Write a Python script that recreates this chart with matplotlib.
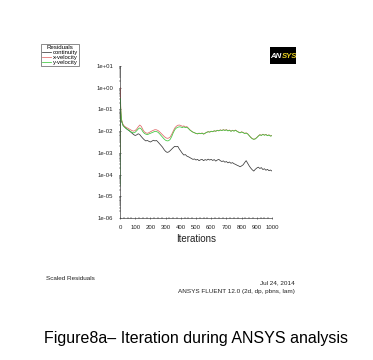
import numpy as np
import matplotlib
matplotlib.use("Agg")
import matplotlib.pyplot as plt
from matplotlib.patches import Rectangle
from matplotlib.ticker import MultipleLocator, NullFormatter, LogLocator

plt.rcParams['font.family'] = ['Liberation Sans', 'DejaVu Sans']

iterations = [1, 2, 5] + list(range(10, 1001, 10))

continuity = [
    2.82e-01, 1.26e-01, 5.01e-02,
    2.82e-02, 1.91e-02, 1.58e-02, 1.32e-02, 1.17e-02, 1.05e-02, 9.12e-03, 7.94e-03, 6.92e-03, 6.31e-03,
    6.76e-03, 7.59e-03, 6.92e-03, 5.62e-03, 4.68e-03, 3.98e-03, 3.55e-03, 3.72e-03, 3.39e-03, 3.16e-03,
    3.47e-03, 3.80e-03, 3.55e-03, 3.72e-03, 3.16e-03, 2.63e-03, 2.19e-03, 1.82e-03, 1.41e-03, 1.17e-03,
    1.05e-03, 1.10e-03, 1.26e-03, 1.48e-03, 1.74e-03, 2.00e-03, 1.91e-03, 2.00e-03, 1.51e-03, 1.20e-03,
    9.55e-04, 7.94e-04, 8.32e-04, 7.08e-04, 6.61e-04, 6.03e-04, 5.50e-04, 5.01e-04, 5.25e-04, 4.68e-04,
    5.01e-04, 4.37e-04, 4.79e-04, 5.01e-04, 4.37e-04, 4.90e-04, 4.57e-04, 5.13e-04, 4.68e-04, 5.01e-04,
    4.47e-04, 4.90e-04, 4.17e-04, 4.68e-04, 5.01e-04, 4.37e-04, 3.98e-04, 4.27e-04, 3.72e-04, 3.98e-04,
    3.47e-04, 3.80e-04, 3.31e-04, 3.55e-04, 3.16e-04, 2.95e-04, 2.69e-04, 2.51e-04, 2.29e-04, 2.51e-04,
    2.82e-04, 3.55e-04, 4.37e-04, 3.31e-04, 2.51e-04, 2.00e-04, 1.66e-04, 1.45e-04, 1.74e-04, 2.00e-04,
    2.19e-04, 1.91e-04, 2.09e-04, 1.70e-04, 1.86e-04, 1.58e-04, 1.74e-04, 1.51e-04, 1.62e-04, 1.45e-04,
]

x_velocity = [
    1.00e-03, 1.00e+00, 1.26e-01,
    3.55e-02, 2.00e-02, 1.66e-02, 1.51e-02, 1.38e-02, 1.26e-02, 1.15e-02, 1.05e-02, 1.00e-02, 1.07e-02,
    1.26e-02, 1.58e-02, 1.91e-02, 1.66e-02, 1.20e-02, 9.33e-03, 8.32e-03, 7.94e-03, 8.51e-03, 9.33e-03,
    1.02e-02, 1.10e-02, 1.17e-02, 1.15e-02, 1.07e-02, 9.33e-03, 7.94e-03, 6.76e-03, 5.75e-03, 5.01e-03,
    4.68e-03, 4.79e-03, 5.37e-03, 7.08e-03, 1.00e-02, 1.38e-02, 1.66e-02, 1.86e-02, 1.91e-02, 1.82e-02,
    1.66e-02, 1.74e-02, 1.55e-02, 1.62e-02, 1.38e-02, 1.15e-02, 1.00e-02, 9.12e-03, 8.32e-03, 7.94e-03,
    7.41e-03, 8.13e-03, 7.59e-03, 8.32e-03, 7.24e-03, 7.94e-03, 8.91e-03, 9.55e-03, 8.91e-03, 1.00e-02,
    9.33e-03, 1.05e-02, 9.77e-03, 1.10e-02, 1.02e-02, 1.15e-02, 1.07e-02, 1.17e-02, 1.10e-02, 1.17e-02,
    1.05e-02, 1.12e-02, 1.00e-02, 1.10e-02, 1.02e-02, 1.12e-02, 1.00e-02, 9.12e-03, 8.51e-03, 9.33e-03,
    8.71e-03, 7.94e-03, 8.32e-03, 7.59e-03, 6.31e-03, 5.25e-03, 4.57e-03, 4.27e-03, 4.47e-03, 5.13e-03,
    6.03e-03, 6.92e-03, 6.46e-03, 7.24e-03, 6.61e-03, 7.08e-03, 6.31e-03, 6.76e-03, 6.03e-03, 6.31e-03,
]

y_velocity = [
    3.16e-05, 3.16e-01, 1.00e-01,
    3.16e-02, 1.78e-02, 1.51e-02, 1.35e-02, 1.20e-02, 1.07e-02, 9.55e-03, 8.71e-03, 8.32e-03, 8.91e-03,
    1.05e-02, 1.26e-02, 1.41e-02, 1.26e-02, 9.55e-03, 7.94e-03, 7.24e-03, 6.92e-03, 7.41e-03, 7.94e-03,
    8.51e-03, 9.12e-03, 9.77e-03, 9.55e-03, 8.91e-03, 7.59e-03, 6.31e-03, 5.25e-03, 4.37e-03, 3.80e-03,
    3.55e-03, 3.63e-03, 4.17e-03, 5.62e-03, 8.32e-03, 1.15e-02, 1.38e-02, 1.51e-02, 1.58e-02, 1.55e-02,
    1.45e-02, 1.58e-02, 1.45e-02, 1.51e-02, 1.32e-02, 1.12e-02, 1.00e-02, 8.91e-03, 8.51e-03, 7.76e-03,
    7.59e-03, 7.94e-03, 7.76e-03, 7.94e-03, 7.41e-03, 8.13e-03, 8.71e-03, 9.33e-03, 9.12e-03, 9.77e-03,
    9.55e-03, 1.02e-02, 1.00e-02, 1.07e-02, 1.05e-02, 1.12e-02, 1.07e-02, 1.15e-02, 1.07e-02, 1.15e-02,
    1.02e-02, 1.10e-02, 9.77e-03, 1.07e-02, 1.00e-02, 1.10e-02, 9.77e-03, 8.91e-03, 8.32e-03, 9.12e-03,
    8.51e-03, 7.76e-03, 8.13e-03, 7.41e-03, 6.17e-03, 5.13e-03, 4.47e-03, 4.17e-03, 4.37e-03, 5.01e-03,
    5.89e-03, 6.76e-03, 6.31e-03, 7.08e-03, 6.46e-03, 6.92e-03, 6.17e-03, 6.61e-03, 5.89e-03, 6.17e-03,
]

series_names = ["continuity", "x-velocity", "y-velocity"]
series_colors = ["#3a3a3a", "#e06868", "#3cc83c"]

x_ticks = [0, 100, 200, 300, 400, 500, 600, 700, 800, 900, 1000]
y_ticks = [1e1, 1e0, 1e-1, 1e-2, 1e-3, 1e-4, 1e-5, 1e-6]
y_tick_labels = ["1e+01", "1e+00", "1e-01", "1e-02", "1e-03", "1e-04", "1e-05", "1e-06"]

W, H = 373, 360
fig = plt.figure(figsize=(W / 100, H / 100), dpi=100)
ax = fig.add_axes([120 / W, 1 - 218 / H, 152 / W, 152 / H])

handles = []
for vals, name, col in zip([continuity, x_velocity, y_velocity], series_names, series_colors):
    h, = ax.plot(iterations, vals, color=col, lw=0.55, label=name)
    handles.append(h)

ax.set_yscale('log')
ax.set_xlim(0, 1000)
ax.set_ylim(1e-6, 1e1)
ax.set_xticks(x_ticks)
ax.set_xticklabels([str(t) for t in x_ticks])
ax.set_yticks(y_ticks)
ax.set_yticklabels(y_tick_labels)
ax.xaxis.set_minor_locator(MultipleLocator(25))
ax.yaxis.set_minor_locator(LogLocator(base=10, subs=np.arange(2, 10), numticks=20))
ax.yaxis.set_minor_formatter(NullFormatter())
ax.tick_params(axis='both', which='major', labelsize=4.3, length=2, width=0.4, direction='inout', pad=4, colors='#222222')
ax.tick_params(axis='both', which='minor', length=1.2, width=0.3, direction='inout')
for s in ['top', 'right']:
    ax.spines[s].set_visible(False)
for s in ['left', 'bottom']:
    ax.spines[s].set_linewidth(0.5)
    ax.spines[s].set_color('#444444')
ax.set_xlabel("Iterations", fontsize=7, labelpad=3, color='#222222')

leg = fig.legend(handles=handles, loc='upper left', bbox_to_anchor=(41 / W, 1 - 44 / H),
                 fontsize=4.2, title="Residuals", title_fontsize=4.4, frameon=True,
                 fancybox=False, edgecolor='#333333', borderpad=0.15, labelspacing=0.0,
                 handlelength=1.6, handletextpad=0.3, borderaxespad=0.0)
leg.get_frame().set_linewidth(0.5)

# ANSYS logo
fig.patches.append(Rectangle((270 / W, 1 - 64 / H), 26 / W, 17 / H, transform=fig.transFigure,
                             facecolor='black', edgecolor='none'))
fig.text(281 / W, 1 - 56 / H, "AN", color='white', fontsize=5.6, fontweight='bold', style='italic',
         ha='right', va='center')
fig.text(281.5 / W, 1 - 56 / H, "SYS", color='#e8d020', fontsize=5.6, fontweight='bold', style='italic',
         ha='left', va='center')

fig.text(46 / W, 1 - 278 / H, "Scaled Residuals", fontsize=4.6, ha='left', va='center', color='#222222')
fig.text(295 / W, 1 - 283 / H, "Jul 24, 2014", fontsize=4.6, ha='right', va='center', color='#222222')
fig.text(295 / W, 1 - 292 / H, "ANSYS FLUENT 12.0 (2d, dp, pbns, lam)", fontsize=4.6, ha='right',
         va='center', color='#222222')

fig.text(195.5 / W, 1 - 338 / H, "Figure8a\u2013 Iteration during ANSYS analysis", fontsize=11.5,
         ha='center', va='center', color='black')

fig.savefig("out.png", dpi=100)
